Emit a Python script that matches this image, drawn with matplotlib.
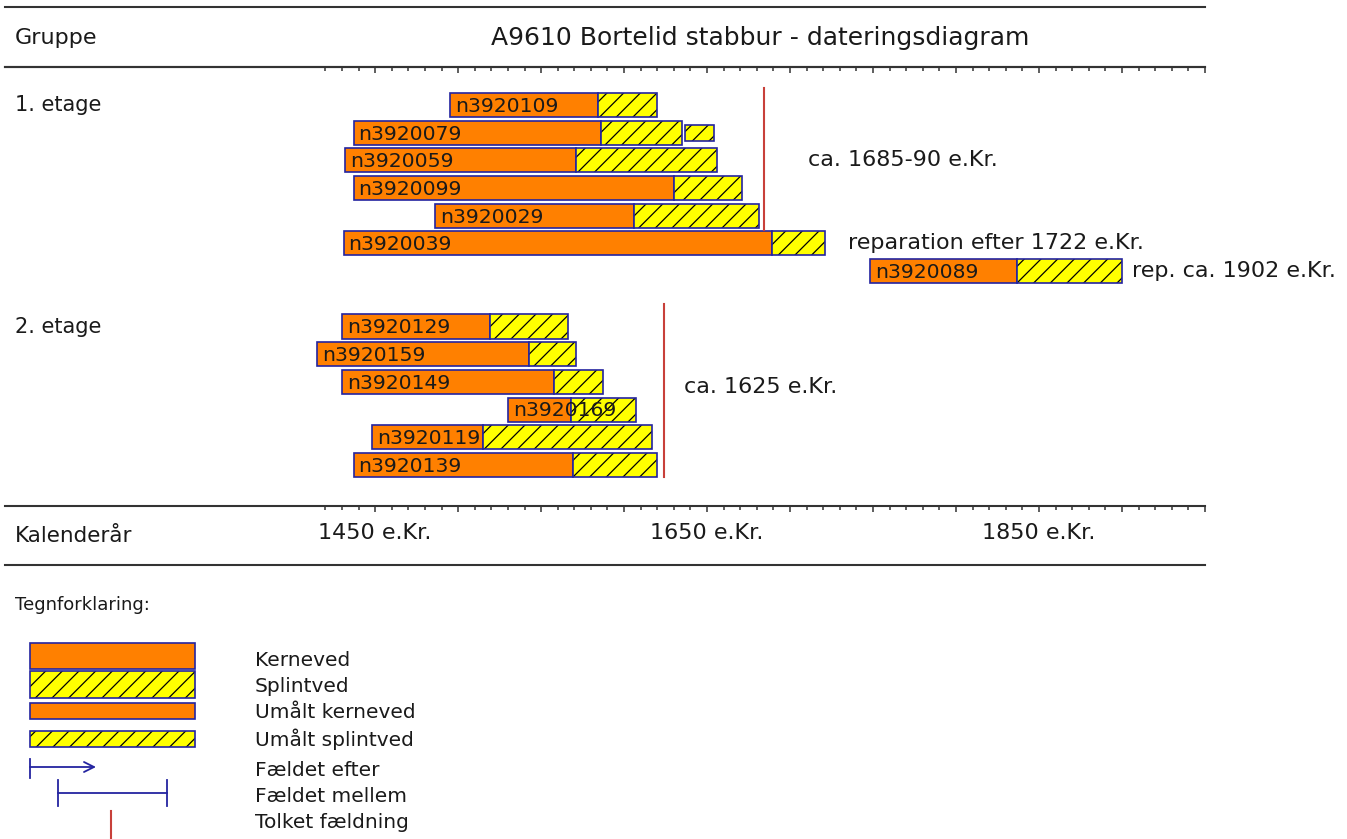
import numpy as np
import matplotlib
matplotlib.use("Agg")
import matplotlib.pyplot as plt
import matplotlib.transforms as mtransforms
from matplotlib.patches import Rectangle

# data (years e.Kr.)
samples = ["n3920109", "n3920079", "n3920059", "n3920099", "n3920029", "n3920039", "n3920089",
           "n3920129", "n3920159", "n3920149", "n3920169", "n3920119", "n3920139"]
rows = [0, 1, 2, 3, 4, 5, 6, 8, 9, 10, 11, 12, 13]
start = [1495, 1437, 1432, 1437, 1486, 1431, 1748, 1430, 1415, 1430, 1530, 1448, 1437]
heart_end = [1584, 1586, 1571, 1630, 1606, 1689, 1837, 1519, 1543, 1558, 1568, 1515, 1569]
sap_end = [1620, 1635, 1656, 1671, 1681, 1721, 1900, 1566, 1571, 1587, 1607, 1617, 1620]

# unmeasured sapwood piece
umaalt_row = [1]
umaalt_start = [1637]
umaalt_end = [1654]

groups = ["1. etage", "2. etage"]
group_rows = [0, 8]
felling_year = [1684.5, 1624]
felling_span = [(-0.6, 4.5), (7.2, 13.45)]

notes = ["ca. 1685-90 e.Kr.", "reparation efter 1722 e.Kr.", "rep. ca. 1902 e.Kr.", "ca. 1625 e.Kr."]
note_x = [1711, 1735, 1906, 1636]
note_y = [2, 5, 6, 10.2]

label_years = [1450, 1650, 1850]

orange = "#ff8000"
yellow = "#ffff00"
navy = "#2424a0"
red = "#c8403a"
txt = "#1a1a1a"
line = "#333333"

W, H = 1347, 839
fig = plt.figure(figsize=(W / 100, H / 100), dpi=100)
plt.rcParams["hatch.linewidth"] = 0.9

# main chart axes: spines at y=67 and y=506 px, x from 5 to 1205 px
ax = fig.add_axes([5 / W, (H - 506) / H, 1200 / W, 439 / H])
ax.set_xlim(1227, 1950)
ax.set_ylim(14.48, -1.37)
for s in ["left", "right"]:
    ax.spines[s].set_visible(False)
for s in ["top", "bottom"]:
    ax.spines[s].set_color(line)
    ax.spines[s].set_linewidth(1.5)
ax.set_yticks([])

majors = np.arange(1450, 1951, 50)
minors = np.arange(1420, 1951, 10)
ax.set_xticks(majors)
ax.set_xticklabels([f"{y} e.Kr." if y in label_years else "" for y in majors], fontsize=16, color=txt)
ax.set_xticks(minors, minor=True)
ax.tick_params(axis="x", which="major", direction="out", length=4.5, width=1.1, color=line, pad=8,
               top=False, bottom=True)
ax.tick_params(axis="x", which="minor", direction="out", length=3, width=1.1, color=line, top=False)

axt = ax.twiny()
axt.set_xlim(ax.get_xlim())
for s in ["left", "right", "bottom"]:
    axt.spines[s].set_visible(False)
axt.spines["top"].set_color(line)
axt.spines["top"].set_linewidth(1.5)
axt.set_xticks(majors)
axt.set_xticklabels([])
axt.set_xticks(minors, minor=True)
axt.tick_params(axis="x", which="major", direction="in", length=4.5, width=1.1, color=line)
axt.tick_params(axis="x", which="minor", direction="in", length=3, width=1.1, color=line)

bh = 0.87
heart_w = np.array(heart_end) - np.array(start)
sap_w = np.array(sap_end) - np.array(heart_end)
ax.barh(rows, heart_w, left=start, height=bh, color=orange, edgecolor=navy, linewidth=1.2, zorder=2)
ax.barh(rows, sap_w, left=heart_end, height=bh, color=yellow, edgecolor="black", hatch="//",
        linewidth=0, zorder=2)
ax.barh(rows, sap_w, left=heart_end, height=bh, fill=False, edgecolor=navy, linewidth=1.2, zorder=3)

uw = np.array(umaalt_end) - np.array(umaalt_start)
ax.barh(umaalt_row, uw, left=umaalt_start, height=0.57, color=yellow, edgecolor="black", hatch="//",
        linewidth=0, zorder=2)
ax.barh(umaalt_row, uw, left=umaalt_start, height=0.57, fill=False, edgecolor=navy, linewidth=1.2, zorder=3)

for name, r, x0 in zip(samples, rows, start):
    ax.text(x0 + 3, r + 0.05, name, fontsize=14.7, color=txt, va="center", ha="left", zorder=4)

for yr, (y0, y1) in zip(felling_year, felling_span):
    ax.plot([yr, yr], [y0, y1], color=red, lw=1.5, zorder=4)

for t, x, y in zip(notes, note_x, note_y):
    ax.text(x, y, t, fontsize=16, color=txt, va="center", ha="left", clip_on=False)

trans = mtransforms.blended_transform_factory(fig.transFigure, ax.transData)
for g, r in zip(groups, group_rows):
    ax.text(15 / W, r, g, transform=trans, fontsize=15, color=txt, va="center", ha="left")

# overlay in pixel coordinates for header, frame lines and legend
lax = fig.add_axes([0, 0, 1, 1])
lax.set_xlim(0, W)
lax.set_ylim(H, 0)
lax.axis("off")

lax.plot([5, 1205], [7, 7], color=line, lw=1.5)
lax.plot([5, 1205], [565, 565], color=line, lw=1.5)
lax.text(15, 38, "Gruppe", fontsize=16, color=txt, va="center", ha="left")
lax.text(760, 38, "A9610 Bortelid stabbur - dateringsdiagram", fontsize=18, color=txt, va="center", ha="center")
lax.text(15, 536, "Kalenderår", fontsize=15.5, color=txt, va="center", ha="left")
lax.text(15, 605, "Tegnforklaring:", fontsize=13, color=txt, va="center", ha="left")

# legend glyphs
lax.add_patch(Rectangle((30, 643), 165, 26, facecolor=orange, edgecolor=navy, lw=1.2))
lax.add_patch(Rectangle((30, 671), 165, 27, facecolor=yellow, edgecolor="black", hatch="//", lw=0))
lax.add_patch(Rectangle((30, 671), 165, 27, fill=False, edgecolor=navy, lw=1.2))
lax.add_patch(Rectangle((30, 703), 165, 16, facecolor=orange, edgecolor=navy, lw=1.2))
lax.add_patch(Rectangle((30, 731), 165, 16, facecolor=yellow, edgecolor="black", hatch="//", lw=0))
lax.add_patch(Rectangle((30, 731), 165, 16, fill=False, edgecolor=navy, lw=1.2))
lax.plot([30, 30], [759, 778], color=navy, lw=1.3)
lax.annotate("", xy=(96, 767), xytext=(30, 767),
             arrowprops=dict(arrowstyle="->", color=navy, lw=1.3, shrinkA=0, shrinkB=0,
                             mutation_scale=18))
lax.plot([58, 167], [793, 793], color=navy, lw=1.3)
lax.plot([58, 58], [780, 806], color=navy, lw=1.3)
lax.plot([167, 167], [780, 806], color=navy, lw=1.3)
lax.plot([111, 111], [811, 838], color=red, lw=1.5)

legend_labels = ["Kerneved", "Splintved", "Umålt kerneved", "Umålt splintved",
                 "Fældet efter", "Fældet mellem", "Tolket fældning"]
legend_y = [660, 687, 712, 739, 771, 797, 822]
for t, y in zip(legend_labels, legend_y):
    lax.text(255, y, t, fontsize=14.5, color=txt, va="center", ha="left")

fig.savefig("out.png", dpi=100)
